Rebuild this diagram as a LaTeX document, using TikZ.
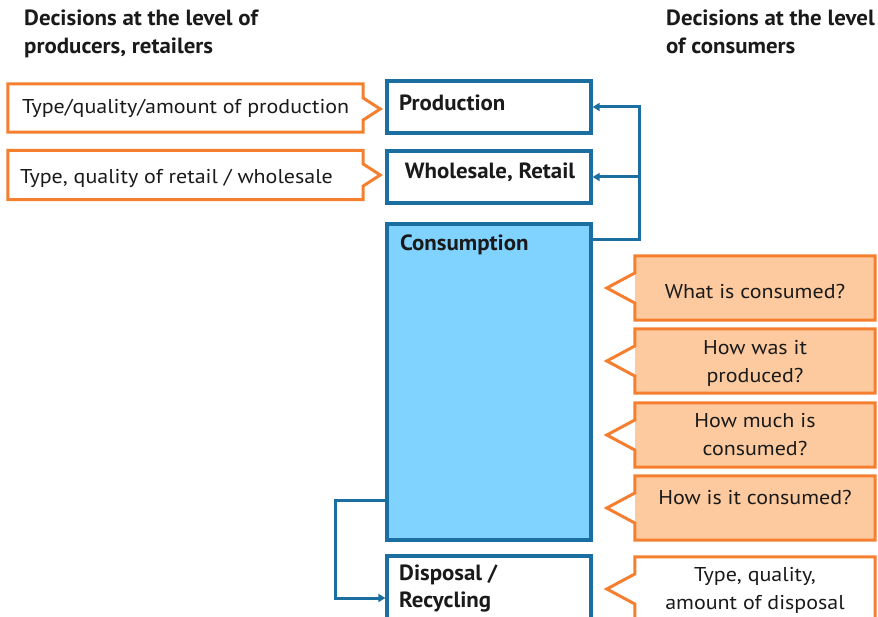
\documentclass[tikz,border=0pt]{standalone}
\usepackage{fontspec}
\setmainfont[FakeStretch=1.1]{PT Sans}
\newfontfamily\headfont[FakeStretch=1.04]{PT Sans}
\usetikzlibrary{arrows.meta,calc}
\definecolor{bl}{HTML}{1A6EA0}
\definecolor{lb}{HTML}{80D3FF}
\definecolor{org}{HTML}{F57F2E}
\definecolor{lorg}{HTML}{FCCA9E}
\definecolor{txt}{HTML}{1A1A1A}
\tikzset{
  blbox/.style={rectangle, draw=bl, line width=3.2, fill=white, minimum width=204, inner sep=0},
  boxlab/.style={text=txt, font=\headfont\bfseries\fontsize{22}{27}\selectfont, align=left, inner sep=0},
  head/.style={text=txt, font=\headfont\bfseries\fontsize{22}{28}\selectfont, align=left, inner sep=0},
  ctext/.style={text=txt, font=\fontsize{20}{28}\selectfont, align=center, inner sep=0},
  lcall/.style={rectangle, fill=white, minimum width=355, inner sep=0},
  rcall/.style={rectangle, fill=lorg, minimum width=240, minimum height=64, inner sep=0},
  oline/.style={draw=org, line width=3, line join=miter},
  conn/.style={draw=bl, line width=3},
  arr/.style={-{Triangle[length=7,width=8]}},
}
\begin{document}
\begin{tikzpicture}[x=1pt,y=-1pt]
\useasboundingbox (0,0) rectangle (878,617);
\clip (0,0) rectangle (878,617);
% headings
\node[head, anchor=north west] (hl) at (24,10) {Decisions at the level of\\producers, retailers};
\node[head, anchor=north west] (hr) at (666,10) {Decisions at the level\\of consumers};
% blue boxes
\node[blbox, minimum height=52] (prod) at (489,107) {};
\node[boxlab, anchor=west] (prodt) at (399,103) {Production};
\node[blbox, minimum height=52] (whole) at (489,177) {};
\node[boxlab] (wholet) at (490,172) {Wholesale, Retail};
\node[blbox, fill=lb, minimum height=316] (cons) at (489,382) {};
\node[boxlab, anchor=west] (const) at (400,245) {Consumption};
\node[blbox, minimum height=84] (disp) at (489,598) {};
\node[boxlab, anchor=north west] (dispt) at (399,565) {Disposal /\\Recycling};
% connectors
\coordinate (cr) at ($(cons.north east)+(0,17)$);
\coordinate (jt) at ($(cr)+(47,0)$);
\draw[conn, arr] (cr) -- (jt) |- (prod.east);
\draw[conn, arr] (jt |- whole.east) -- (whole.east);
\coordinate (cl) at ($(cons.south west)+(0,-41)$);
\coordinate (jl) at ($(cl)+(-50,0)$);
\draw[conn, arr] (cl) -- (jl) |- (disp.west);
% left callouts
\node[lcall, minimum height=48] (lc1) at (185.5,108) {};
\draw[oline] (lc1.north west) -- (lc1.north east) -- ($(lc1.east)+(0,-10)$) -- ($(lc1.east)+(17,1)$) -- ($(lc1.east)+(0,12)$) -- (lc1.south east) -- (lc1.south west) -- cycle;
\node[ctext, anchor=west] (lt1) at (22,108) {Type/quality/amount of production};
\node[lcall, minimum height=49] (lc2) at (185.5,175) {};
\draw[oline] (lc2.north west) -- (lc2.north east) -- ($(lc2.east)+(0,-11)$) -- ($(lc2.east)+(17,0)$) -- ($(lc2.east)+(0,11)$) -- (lc2.south east) -- (lc2.south west) -- cycle;
\node[ctext, anchor=west] (lt2) at (20,178) {Type, quality of retail / wholesale};
% right callouts
\node[rcall] (rc1) at (755,288) {};
\node[rcall] (rc2) at (755,361) {};
\node[rcall] (rc3) at (755,435) {};
\node[rcall] (rc4) at (755,508) {};
\node[rcall, fill=white] (rc5) at (755,589) {};
\foreach \r in {rc1,rc2,rc3,rc4,rc5}{
  \draw[oline] (\r.north west) -- ($(\r.west)+(0,-15)$) -- ($(\r.west)+(-28,0)$) -- ($(\r.west)+(0,15)$) -- (\r.south west) -- (\r.south east) -- (\r.north east) -- cycle;
}
\node[ctext] (rt1) at (755,292) {What is consumed?};
\node[ctext] (rt2) at (755,363) {How was it\\produced?};
\node[ctext] (rt3) at (755,435) {How much is\\consumed?};
\node[ctext] (rt4) at (755,497) {How is it consumed?};
\node[ctext] (rt5) at (755,590) {Type, quality,\\amount of disposal};
\end{tikzpicture}
\end{document}
